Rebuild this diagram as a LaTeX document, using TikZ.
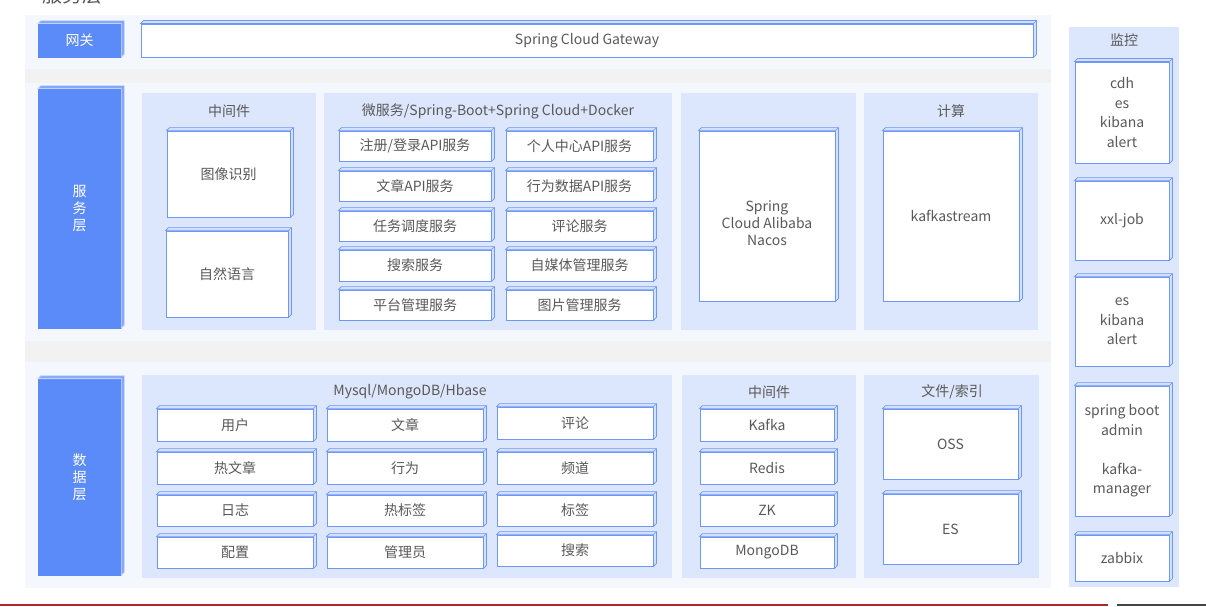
\documentclass[tikz,border=0pt]{standalone}
\usepackage{fontspec}
\setmainfont{Noto Sans CJK SC}
\definecolor{panel}{HTML}{F4F7FE}
\definecolor{band}{HTML}{F2F2F2}
\definecolor{inner}{HTML}{DCE6FC}
\definecolor{labelblue}{HTML}{5B8BF8}
\definecolor{edge}{HTML}{6E97F6}
\definecolor{face}{HTML}{D3E0FD}
\definecolor{txt}{HTML}{595959}
\definecolor{redline}{HTML}{B0282A}
\definecolor{darkline}{HTML}{444444}
\tikzset{
  cubebox/.style={draw=edge, line width=0.9pt, fill=white, inner sep=0pt, text=txt, align=center, font=\fontsize{14}{19.5}\selectfont},
  cubeface/.style={draw=edge, line width=0.6pt, fill=face},
  bluebox/.style={draw=labelblue, line width=0.6pt, fill=labelblue, inner sep=0pt, text=white, align=center, font=\fontsize{14}{17}\selectfont},
  blueface/.style={draw=white!70!labelblue, line width=0.6pt, fill=labelblue!75!white},
  ztitle/.style={text=txt, inner sep=0pt, font=\fontsize{14}{17}\selectfont},
  tighttext/.style={text=txt, inner sep=0pt, align=center, font=\fontsize{14}{17}\selectfont},
}
\newcommand\cubeat[6]{%
  \node[cubebox, minimum width={(#4-#2)*1pt}, minimum height={(#5-#3)*1pt}] (#1) at ({(#2+#4)/2},{(#3+#5)/2}) {#6};
  \draw[cubeface] (#1.north west) -- ++(3,-3) -- ([shift={(3,-3)}]#1.north east) -- ([shift={(3,-3)}]#1.south east) -- (#1.south east) -- (#1.north east) -- cycle;
  \draw[cubeface] (#1.north east) -- ([shift={(3,-3)}]#1.north east);
}
\newcommand\bluecube[6]{%
  \node[bluebox, minimum width={(#4-#2)*1pt}, minimum height={(#5-#3)*1pt}] (#1) at ({(#2+#4)/2},{(#3+#5)/2}) {#6};
  \draw[blueface] (#1.north west) -- ++(3,-3) -- ([shift={(3,-3)}]#1.north east) -- ([shift={(3,-3)}]#1.south east) -- (#1.south east) -- (#1.north east) -- cycle;
}
\begin{document}
\begin{tikzpicture}[x=1pt,y=-1pt]
\useasboundingbox (0,0) rectangle (1206,607);
\fill[white] (0,0) rectangle (1206,607);
% background bands
\fill[panel] (25,15) rectangle (1051,69);
\fill[band] (25,69) rectangle (1051,83);
\fill[panel] (25,83) rectangle (1051,341);
\fill[band] (25,341) rectangle (1051,362);
\fill[panel] (25,362) rectangle (1051,588);
\fill[inner] (1069,27) rectangle (1179,587);
% clipped heading (cut off at the top edge, as in the reference)
\node[text=txt, font=\fontsize{20}{22}\selectfont] (head) at (72,-5) {服务层};
% gateway row
\bluecube{gwlabel}{38}{24}{121}{57}{网关}
\cubeat{gateway}{141}{24}{1033}{57}{Spring Cloud Gateway}
% service row
\bluecube{svclabel}{38}{89}{121}{328}{服\\务\\层}
\fill[inner] (142,93) rectangle (316,330);
\fill[inner] (324,93) rectangle (672,330);
\fill[inner] (681,93) rectangle (856,330);
\fill[inner] (864,93) rectangle (1038,330);
\node[ztitle] (t1) at (229,111) {中间件};
\node[ztitle] (t2) at (498,111) {微服务/Spring-Boot+Spring Cloud+Docker};
\node[ztitle] (t3) at (951,111) {计算};
\cubeat{img}{167}{131}{290}{217}{图像识别}
\cubeat{nlp}{166}{231}{288}{317}{自然语言}
\cubeat{m1}{339}{131}{491}{161}{注册/登录API服务}
\cubeat{m2}{339}{171}{491}{201}{文章API服务}
\cubeat{m3}{339}{211}{491}{241}{任务调度服务}
\cubeat{m4}{339}{250}{491}{281}{搜索服务}
\cubeat{m5}{339}{290}{491}{320}{平台管理服务}
\cubeat{n1}{506}{131}{653}{161}{个人中心API服务}
\cubeat{n2}{506}{171}{653}{201}{行为数据API服务}
\cubeat{n3}{506}{211}{653}{241}{评论服务}
\cubeat{n4}{506}{250}{653}{281}{自媒体管理服务}
\cubeat{n5}{506}{290}{653}{320}{图片管理服务}
\cubeat{nacos}{699}{131}{835}{301}{}
\node[tighttext] (nacostext) at (767,223) {Spring\\Cloud Alibaba\\Nacos};
\cubeat{kstream}{883}{131}{1019}{301}{kafkastream}
% data row
\bluecube{datalabel}{38}{379}{121}{575}{数\\据\\层}
\fill[inner] (142,375) rectangle (672,578);
\fill[inner] (682,375) rectangle (856,578);
\fill[inner] (864,375) rectangle (1039,578);
\node[ztitle] (t4) at (410,392) {Mysql/MongoDB/Hbase};
\node[ztitle] (t5) at (769,392) {中间件};
\node[ztitle] (t6) at (952,392) {文件/索引};
\cubeat{d11}{157}{409}{313}{441}{用户}
\cubeat{d12}{327}{409}{483}{441}{文章}
\cubeat{d13}{497}{407}{653}{439}{评论}
\cubeat{d21}{157}{452}{313}{484}{热文章}
\cubeat{d22}{327}{452}{483}{484}{行为}
\cubeat{d23}{497}{452}{653}{484}{频道}
\cubeat{d31}{157}{495}{313}{526}{日志}
\cubeat{d32}{327}{495}{483}{526}{热标签}
\cubeat{d33}{497}{495}{653}{526}{标签}
\cubeat{d41}{157}{537}{313}{568}{配置}
\cubeat{d42}{327}{537}{483}{568}{管理员}
\cubeat{d43}{497}{535}{653}{566}{搜索}
\cubeat{kafka}{700}{409}{834}{441}{Kafka}
\cubeat{redis}{700}{452}{834}{484}{Redis}
\cubeat{zk}{700}{495}{834}{526}{ZK}
\cubeat{mongo}{700}{537}{834}{568}{MongoDB}
\cubeat{oss}{883}{409}{1018}{479}{OSS}
\cubeat{es}{883}{494}{1018}{564}{ES}
% monitoring column
\node[ztitle] (t7) at (1124,40) {监控};
\cubeat{mon1}{1075}{62}{1169}{163}{cdh\\es\\kibana\\alert}
\cubeat{mon2}{1075}{181}{1169}{260}{xxl-job}
\cubeat{mon3}{1075}{277}{1169}{366}{es\\kibana\\alert}
\cubeat{mon4}{1075}{386}{1169}{516}{spring boot\\admin\\[19.5pt]kafka-\\manager}
\cubeat{mon5}{1075}{535}{1169}{581}{zabbix}
% bottom rule
\coordinate (r0) at (0,605);
\coordinate (r1) at (1108,605);
\coordinate (g0) at (1117,605);
\coordinate (g1) at (1206,605);
\draw[redline, line width=2pt] (r0) -- (r1);
\draw[darkline, line width=2pt] (g0) -- (g1);
\end{tikzpicture}
\end{document}
